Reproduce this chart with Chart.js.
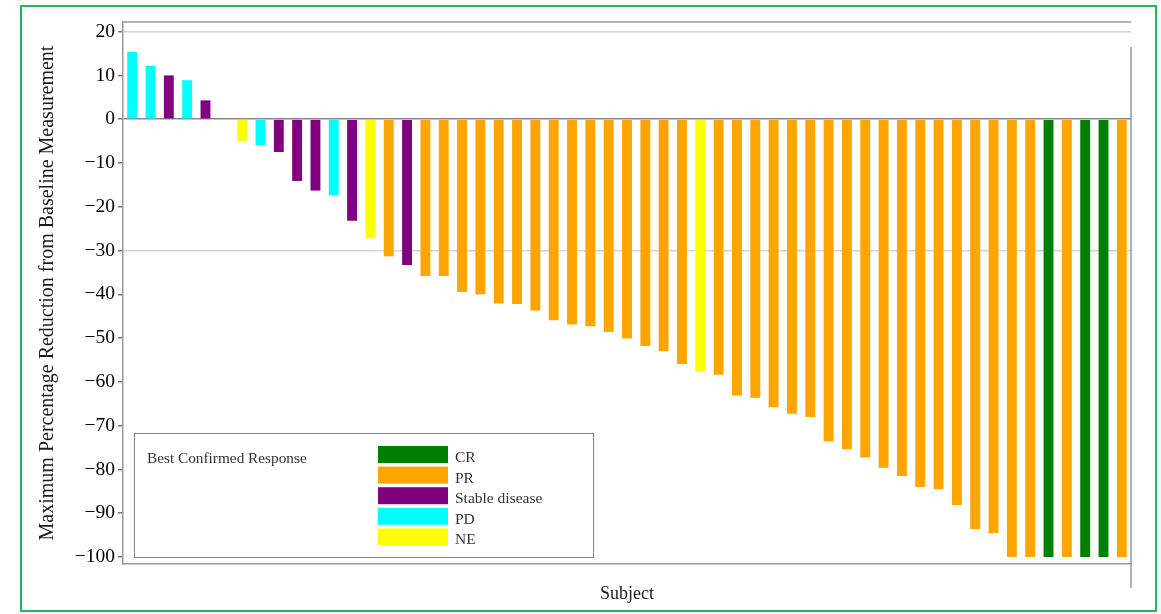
<!DOCTYPE html>
<html>
<head>
<meta charset="utf-8">
<script src="https://cdn.jsdelivr.net/npm/chart.js@4/dist/chart.umd.min.js"></script>
<style>
  body { margin: 0; background: #fff; }
  #wrap { position: relative; width: 1161px; height: 614px; }
  #frame { position: absolute; left: 20px; top: 5px; width: 1133px; height: 603px;
           border: 2px solid #1cb85a; pointer-events: none; }
</style>
</head>
<body>
<div id="wrap">
  <canvas id="waterfall"></canvas>
  <div id="frame"></div>
</div>
<script>
// response categories, in legend order
const responseNames = ["CR", "PR", "Stable disease", "PD", "NE"];
const responseColors = ["#008000", "#ffa500", "#800080", "#00ffff", "#ffff00"];

// one value per subject (slot 6 has no bar)
const reduction = [
  15.4, 12.2, 10.0, 8.9, 4.3, null, -5.0, -5.9, -7.5, -14.1,
  -16.3, -17.4, -23.2, -27.2, -31.3, -33.3, -35.8, -35.8, -39.5, -40.0,
  -42.1, -42.2, -43.7, -45.9, -46.9, -47.3, -48.6, -50.1, -51.8, -53.0,
  -55.9, -57.7, -58.4, -63.1, -63.6, -65.8, -67.3, -68.0, -73.6, -75.4,
  -77.3, -79.6, -81.5, -84.0, -84.5, -88.1, -93.6, -94.5, -100, -100,
  -100, -100, -100, -100, -100
];
const response = [
  "PD", "PD", "Stable disease", "PD", "Stable disease", null, "NE", "PD", "Stable disease", "Stable disease",
  "Stable disease", "PD", "Stable disease", "NE", "PR", "Stable disease", "PR", "PR", "PR", "PR",
  "PR", "PR", "PR", "PR", "PR", "PR", "PR", "PR", "PR", "PR",
  "PR", "NE", "PR", "PR", "PR", "PR", "PR", "PR", "PR", "PR",
  "PR", "PR", "PR", "PR", "PR", "PR", "PR", "PR", "PR", "PR",
  "CR", "PR", "CR", "CR", "PR"
];
const subjects = reduction.map((v, i) => "S" + (i + 1));
const yTicks = [20, 10, 0, -10, -20, -30, -40, -50, -60, -70, -80, -90, -100];

const serif = "'Liberation Serif', 'Times New Roman', serif";

let barColors = response.map(r => r ? responseColors[responseNames.indexOf(r)] : "#fff");

// legend box drawn inside the plot, plus the extra frame lines
const extras = {
  id: "extras",
  afterDraw(chart) {
    const ctx = chart.ctx;
    const a = chart.chartArea;
    ctx.save();
    ctx.strokeStyle = "#999";
    ctx.lineWidth = 1.5;
    ctx.beginPath();
    ctx.moveTo(a.left, a.top);
    ctx.lineTo(a.right, a.top);
    ctx.moveTo(a.right, 47);
    ctx.lineTo(a.right, 588);
    ctx.stroke();

    // legend
    ctx.fillStyle = "#fff";
    ctx.fillRect(134, 433, 459, 124);
    ctx.strokeStyle = "#888";
    ctx.lineWidth = 1;
    ctx.strokeRect(134.5, 433.5, 459, 124);
    ctx.fillStyle = "#333";
    ctx.textBaseline = "middle";
    ctx.font = "15.3px " + serif;
    ctx.fillText("Best Confirmed Response", 147, 459);
    ctx.font = "15.5px " + serif;
    for (let i = 0; i < responseNames.length; i++) {
      let top = 446 + i * 20.6;
      ctx.fillStyle = responseColors[i];
      ctx.fillRect(378, top, 70, 17);
      ctx.fillStyle = "#333";
      ctx.fillText(responseNames[i], 455, top + 12);
    }
    ctx.restore();
  }
};

new Chart(document.getElementById("waterfall"), {
  type: "bar",
  data: {
    labels: subjects,
    datasets: [
      {
        data: reduction,
        backgroundColor: barColors,
        barPercentage: 0.54,
        categoryPercentage: 1
      }
    ]
  },
  options: {
    responsive: true,
    maintainAspectRatio: false,
    animation: false,
    layout: { padding: { top: 22, right: 30, bottom: 0, left: 0 } },
    plugins: {
      legend: { display: false },
      tooltip: { enabled: false }
    },
    scales: {
      x: {
        ticks: { display: false },
        grid: { display: false },
        border: { display: true, color: "#999", width: 1.5 },
        title: {
          display: true,
          text: "Subject",
          color: "#1a1a1a",
          font: { family: serif, size: 18 },
          padding: { top: 0, bottom: 9 }
        },
        afterFit(scale) { scale.height = 50; }
      },
      y: {
        min: -101.6,
        max: 22.2,
        afterBuildTicks(scale) {
          scale.ticks = yTicks.map(v => ({ value: v }));
        },
        afterFit(scale) { scale.width = 123; },
        ticks: {
          color: "#000",
          padding: 3,
          font: { family: serif, size: 19.5 },
          callback: v => (v < 0 ? "\u2212" + Math.abs(v) : String(v))
        },
        grid: {
          tickLength: 5,
          tickColor: "#777",
          color: c => {
            if (c.tick && c.tick.value === 0) return "#888";
            if (c.tick && (c.tick.value === 20 || c.tick.value === -30)) return "#d4d4d4";
            return "rgba(0,0,0,0)";
          },
          lineWidth: 1.5
        },
        border: { display: true, color: "#999", width: 1.5 },
        title: {
          display: true,
          text: "Maximum Percentage Reduction from Baseline Measurement",
          color: "#1a1a1a",
          font: { family: serif, size: 20 },
          padding: { top: 36, bottom: 0 }
        }
      }
    }
  },
  plugins: [extras]
});
</script>
</body>
</html>
